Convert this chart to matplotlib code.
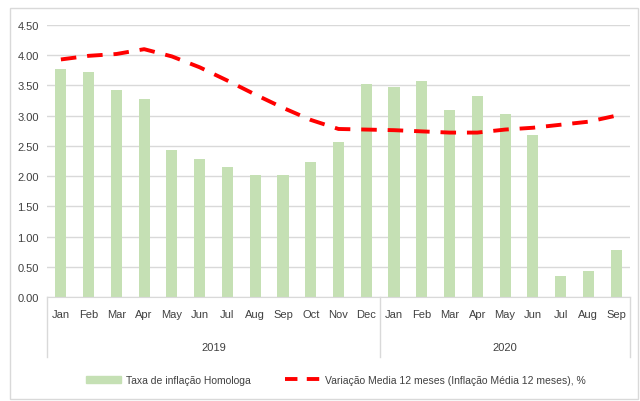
import matplotlib
matplotlib.use("Agg")
import matplotlib.pyplot as plt
from matplotlib.patches import Rectangle
from matplotlib.lines import Line2D
import numpy as np

plt.rcParams['font.family'] = ['Liberation Sans Narrow', 'Liberation Sans', 'DejaVu Sans']

months = ["Jan", "Feb", "Mar", "Apr", "May", "Jun", "Jul", "Aug", "Sep", "Oct", "Nov", "Dec",
          "Jan", "Feb", "Mar", "Apr", "May", "Jun", "Jul", "Aug", "Sep"]
years = ["2019", "2020"]
year_counts = [12, 9]

homologa = [3.78, 3.73, 3.43, 3.27, 2.43, 2.28, 2.15, 2.02, 2.02, 2.23, 2.57, 3.52,
            3.48, 3.57, 3.10, 3.32, 3.02, 2.68, 0.35, 0.43, 0.77]
media12 = [3.93, 3.99, 4.02, 4.10, 3.98, 3.80, 3.58, 3.35, 3.13, 2.93, 2.78, 2.77,
           2.76, 2.74, 2.72, 2.72, 2.77, 2.80, 2.85, 2.90, 3.00]

bar_color = "#C5E0B4"
grid_color = "#D9D9D9"
text_color = "#404040"

fig = plt.figure(figsize=(6.4, 4.02), dpi=100)
ax = fig.add_axes([47 / 640, 1 - 298 / 402, 583 / 640, 272 / 402])

x = np.arange(len(months))
ax.bar(x, homologa, width=0.4, color=bar_color, zorder=2)
ax.plot(x, media12, color="#FF0000", lw=2.8, linestyle=(0, (4, 2.8)), zorder=3)

ax.set_xlim(-0.5, len(months) - 0.5)
ax.set_ylim(0, 4.5)
ax.set_yticks(np.arange(0, 4.51, 0.5))
ax.set_yticklabels([f"{v:.2f}" for v in np.arange(0, 4.51, 0.5)])
ax.yaxis.grid(True, color=grid_color, lw=1)
ax.set_axisbelow(True)
for s in ["top", "right", "left"]:
    ax.spines[s].set_visible(False)
ax.spines["bottom"].set_color(grid_color)
ax.tick_params(axis="y", length=0, pad=6, labelsize=8, labelcolor=text_color)
ax.set_xticks(x)
ax.set_xticklabels(months)
ax.tick_params(axis="x", length=0, pad=9, labelsize=8, labelcolor=text_color)

# group separators and year labels
start = 0
seps = [-0.5]
for yr, n in zip(years, year_counts):
    mid = start + (n - 1) / 2
    ax.text(mid, -0.185, yr, transform=ax.get_xaxis_transform(), ha="center", va="center",
            fontsize=8, color=text_color)
    start += n
    seps.append(start - 0.5)
for s in seps:
    ax.plot([s, s], [0, -0.22], transform=ax.get_xaxis_transform(), color=grid_color,
            lw=1, clip_on=False)

# outer border
fig.patches.append(Rectangle((10 / 640, 2 / 402), 628 / 640, 391 / 402, transform=fig.transFigure,
                             fill=False, edgecolor=grid_color, lw=1))

handles = [Rectangle((0, 0), 1, 1, color=bar_color),
           Line2D([0], [0], color="#FF0000", lw=2.8, linestyle=(0, (3.2, 2.4)))]
labels = ["Taxa de inflação Homologa", "Variação Media 12 meses (Inflação Média 12 meses), %"]
fig.legend(handles, labels, loc="center", bbox_to_anchor=(336 / 640, 1 - 381 / 402), ncol=2,
           frameon=False, fontsize=7.5, handlelength=3.3, handletextpad=0.5, columnspacing=3.3,
           labelcolor=text_color)

fig.savefig("out.png", dpi=100)
